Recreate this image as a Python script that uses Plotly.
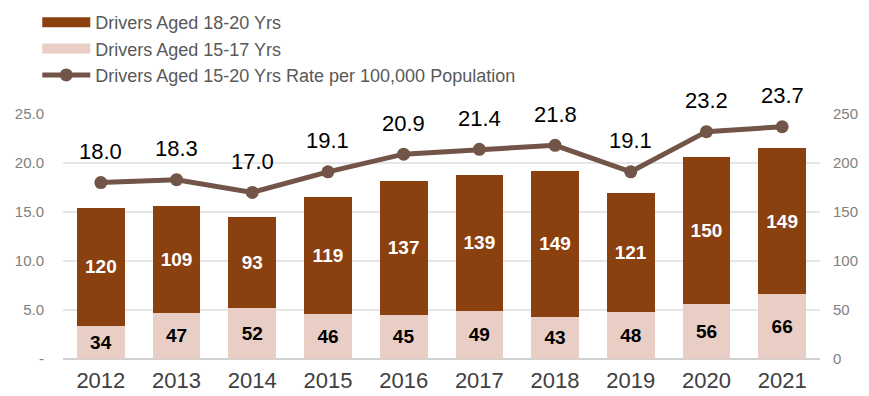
import plotly.graph_objects as go

# Young driver involvement by year
years = ["2012", "2013", "2014", "2015", "2016", "2017", "2018", "2019", "2020", "2021"]
aged_15_17 = [34, 47, 52, 46, 45, 49, 43, 48, 56, 66]
aged_18_20 = [120, 109, 93, 119, 137, 139, 149, 121, 150, 149]
rate_per_100k = [18.0, 18.3, 17.0, 19.1, 20.9, 21.4, 21.8, 19.1, 23.2, 23.7]

left_ticks = [0, 5, 10, 15, 20, 25]
left_labels = ["-", "5.0", "10.0", "15.0", "20.0", "25.0"]
right_ticks = [0, 50, 100, 150, 200, 250]

DARK = "#8B4010"
LIGHT = "#E8CEC4"
LINE = "#725548"
REG = "Liberation Sans, Arial, sans-serif"

fig = go.Figure()

# Stacked counts (right-hand axis)
fig.add_trace(go.Bar(
    x=years, y=aged_15_17, marker_color=LIGHT, marker_line_width=0,
    text=[str(v) for v in aged_15_17], textposition="inside",
    insidetextanchor="middle", constraintext="none",
    textfont=dict(family=REG, size=19, color="#000000", weight="bold"),
    showlegend=False, yaxis="y", hoverinfo="skip",
))
fig.add_trace(go.Bar(
    x=years, y=aged_18_20, marker_color=DARK, marker_line_width=0,
    text=[str(v) for v in aged_18_20], textposition="inside",
    insidetextanchor="middle", constraintext="none",
    textfont=dict(family=REG, size=19, color="#FFFFFF", weight="bold"),
    showlegend=False, yaxis="y", hoverinfo="skip",
))

# Rate line (left-hand axis)
fig.add_trace(go.Scatter(
    x=years, y=rate_per_100k, mode="lines+markers",
    line=dict(color=LINE, width=5), marker=dict(color=LINE, size=13),
    showlegend=False, yaxis="y2", hoverinfo="skip",
))

# Legend entries drawn as wide swatches
fig.add_trace(go.Scatter(
    x=[years[0]], y=[None], mode="lines", line=dict(color=DARK, width=13),
    name="Drivers Aged 18-20 Yrs", yaxis="y2", hoverinfo="skip",
    legendgroup="a",
))
fig.add_trace(go.Scatter(
    x=[years[0]], y=[None], mode="lines", line=dict(color=LIGHT, width=13),
    name="Drivers Aged 15-17 Yrs", yaxis="y2", hoverinfo="skip",
    legendgroup="b",
))
fig.add_trace(go.Scatter(
    x=[years[0]], y=[None], mode="lines+markers",
    line=dict(color=LINE, width=5), marker=dict(color=LINE, size=13),
    name="Drivers Aged 15-20 Yrs Rate per 100,000 Population", yaxis="y2", hoverinfo="skip",
    legendgroup="c",
))

# Rate value labels above the markers (category index positions)
for i, v in enumerate(rate_per_100k):
    fig.add_annotation(
        x=i, y=v, xref="x", yref="y2", text=f"{v:.1f}", showarrow=False,
        yshift=31, font=dict(family=REG, size=22, color="#000000"),
    )

fig.update_layout(
    width=869, height=396,
    margin=dict(l=63, r=49, t=114, b=37, autoexpand=False),
    paper_bgcolor="white", plot_bgcolor="white",
    barmode="stack", bargap=0.37,
    font=dict(family=REG),
    xaxis=dict(
        type="category", categoryorder="array", categoryarray=years,
        range=[-0.5, len(years) - 0.5], automargin=False,
        showgrid=False, showline=False, ticks="",
        tickfont=dict(family=REG, size=22, color="#404040"),
        ticklabelstandoff=6,
    ),
    yaxis=dict(
        side="right", range=[0, 250], tickvals=right_ticks, automargin=False,
        showgrid=True, gridcolor="#E6E6E6", gridwidth=1.5,
        zeroline=True, zerolinecolor="#D0D0D0", zerolinewidth=2,
        tickfont=dict(family=REG, size=15, color="#7F7F7F"),
        ticklabelstandoff=12,
    ),
    yaxis2=dict(
        overlaying="y", side="left", range=[0, 25], automargin=False,
        tickvals=left_ticks, ticktext=left_labels, showgrid=False, zeroline=False,
        tickfont=dict(family=REG, size=15, color="#7F7F7F"),
        ticklabelstandoff=18,
    ),
    legend=dict(
        x=-0.034, y=0.99, yref="container", xanchor="left", yanchor="top",
        orientation="v", itemwidth=48, bgcolor="rgba(0,0,0,0)",
        traceorder="grouped", tracegroupgap=0,
        font=dict(family=REG, size=18, color="#595959"),
    ),
)

fig.write_html("out.html")
